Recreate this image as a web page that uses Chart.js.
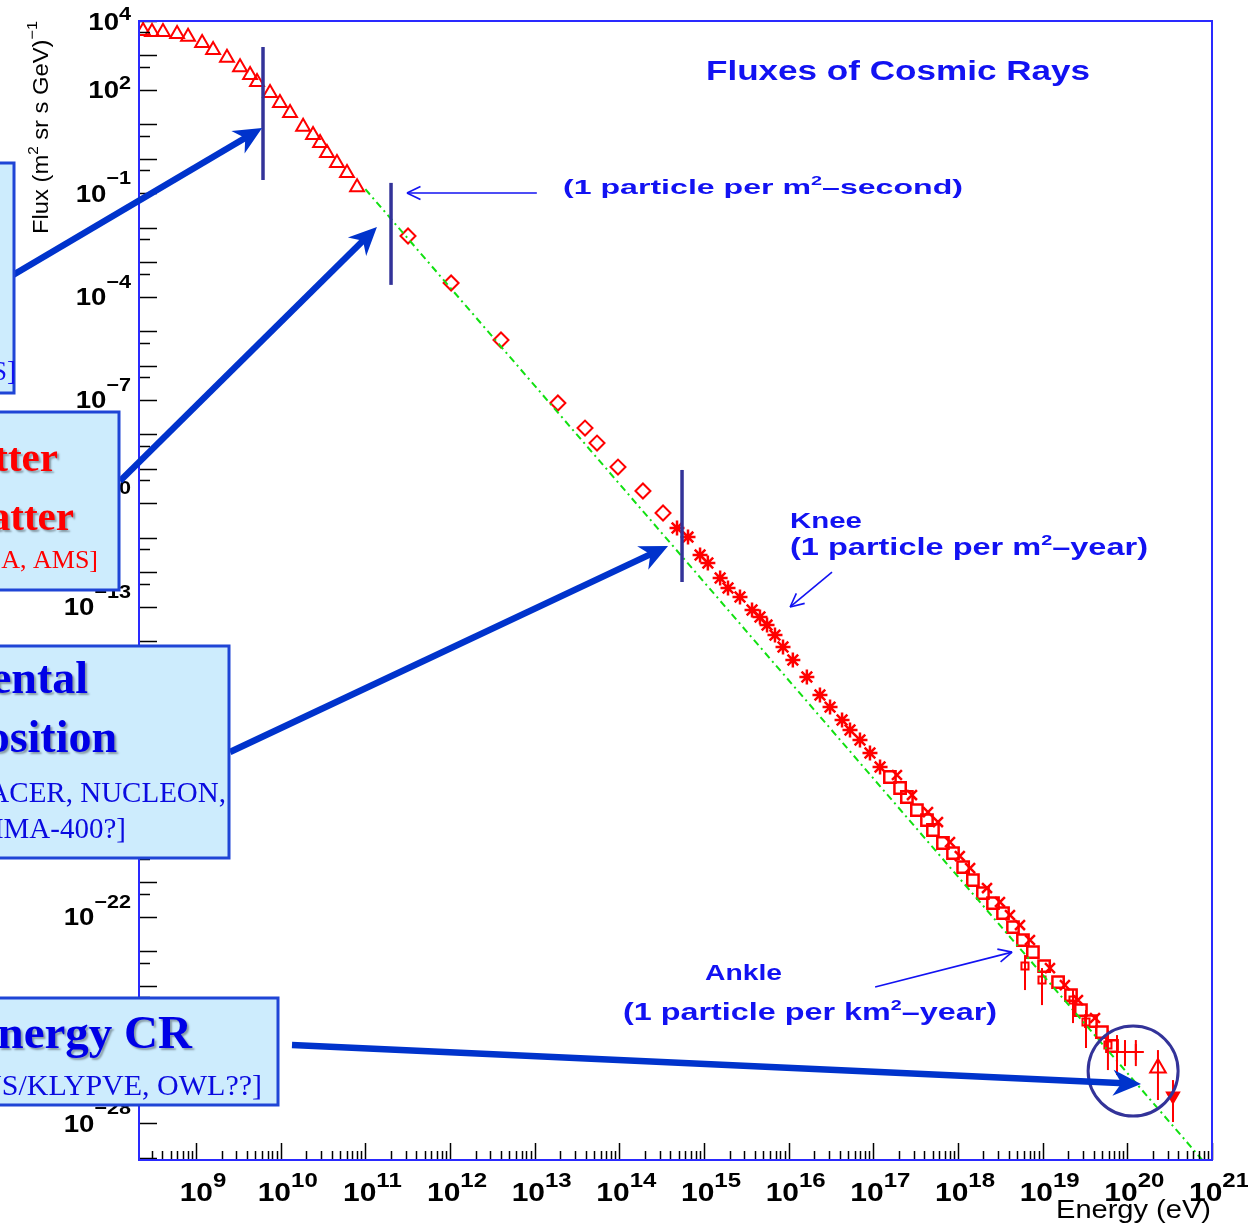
<!DOCTYPE html>
<html>
<head>
<meta charset="utf-8">
<script src="https://cdn.jsdelivr.net/npm/chart.js@4.4.1/dist/chart.umd.min.js"></script>
<style>
html, body { margin: 0; padding: 0; background: #fff; }
canvas { display: block; }
</style>
</head>
<body>
<canvas id="chart" width="1248" height="1232"></canvas>
<script>
var energyRange = [2.12e8, 1e21]
var fluxRange = [8.7e-30, 1e4]
var xLabelExps = [9, 10, 11, 12, 13, 14, 15, 16, 17, 18, 19, 20, 21]
var yLabelExps = [4, 2, -1, -4, -7, -10, -13, -16, -19, -22, -25, -28]

// low energy (triangles)
var lowE = [2.37e8, 3.02e8, 4.07e8, 5.97e8, 8.05e8, 1.18e9, 1.59e9, 2.32e9, 3.31e9, 4.35e9, 5.25e9,
    7.48e9, 9.8e9, 1.29e10, 1.84e10, 2.41e10, 2.92e10, 3.52e10, 4.62e10, 6.07e10, 7.98e10]
var lowF = [5130, 4790, 4790, 4170, 3470, 2290, 1450, 851, 457, 269, 170,
    81, 41.7, 21.4, 8.5, 4.9, 2.9, 1.48, 0.76, 0.39, 0.15]

// direct measurements (diamonds)
var midE = [3.19e11, 1.03e12, 4.0e12, 1.88e13, 3.93e13, 5.45e13, 9.64e13, 1.90e14, 3.28e14]
var midF = [5.74e-3, 2.48e-4, 5.50e-6, 8.17e-8, 1.53e-8, 5.62e-9, 1.13e-9, 2.28e-10, 5.24e-11]

// air showers around the knee (stars)
var kneeE = [4.80e14, 6.47e14, 8.98e14, 1.11e15, 1.55e15, 1.92e15, 2.66e15, 3.69e15, 4.58e15, 5.55e15, 6.89e15,
    8.57e15, 1.12e16, 1.64e16, 2.34e16, 3.08e16, 4.27e16, 5.30e16, 6.95e16, 9.12e16, 1.20e17]
var kneeF = [1.92e-11, 1.05e-11, 3.16e-12, 1.85e-12, 6.79e-13, 3.48e-13, 1.91e-13, 8.0e-14, 5.01e-14, 2.93e-14, 1.50e-14,
    6.75e-15, 2.83e-15, 9.08e-16, 2.73e-16, 1.22e-16, 5.13e-17, 2.63e-17, 1.35e-17, 5.65e-18, 2.22e-18]

// up to the ankle (open squares and crosses)
var ankleE = [1.57e17, 2.07e17, 2.49e17, 3.27e17, 4.30e17, 5.06e17, 6.64e17, 8.73e17, 1.15e18, 1.50e18, 1.97e18, 2.59e18,
    3.40e18, 4.46e18, 5.85e18, 7.67e18, 1.04e19, 1.52e19, 2.16e19, 2.83e19, 3.72e19, 5.01e19, 6.59e19]
var ankleF = [1.14e-18, 5.45e-19, 2.99e-19, 1.25e-19, 6.41e-20, 3.29e-20, 1.38e-20, 7.06e-21, 2.77e-21, 1.16e-21, 4.88e-22, 2.50e-22,
    1.28e-22, 5.02e-23, 2.11e-23, 9.44e-24, 3.71e-24, 1.27e-24, 5.33e-25, 1.96e-25, 9.4e-26, 4.50e-26, 1.77e-26]
var ankle2E = [1.90e17, 2.86e17, 4.42e17, 5.80e17, 8.04e17, 1.05e18, 1.39e18, 2.20e18, 3.13e18, 4.11e18, 5.40e18,
    7.08e18, 1.22e19, 1.83e19, 2.61e19, 4.15e19]
var ankle2F = [1.30e-18, 3.41e-19, 1.09e-19, 5.61e-20, 1.47e-20, 5.78e-21, 2.59e-21, 6.81e-22, 2.67e-22, 1.12e-22, 5.74e-23,
    2.11e-23, 3.24e-24, 1.04e-24, 3.82e-25, 1.15e-25]

// highest energies with error bars
var uheE = [6.18e18, 9.82e18, 2.28e19, 3.25e19, 5.90e19, 7.55e19, 9.38e19, 1.26e20, 2.30e20, 3.46e20]
var uheF = [3.71e-24, 1.46e-24, 3.82e-25, 8.79e-26, 1.89e-26, 1.18e-26, 1.18e-26, 1.18e-26, 4.06e-27, 6.25e-28]
var uheHi = [7.73e-24, 3.24e-24, 7.45e-25, 1.96e-25, 5.14e-26, 3.68e-26, 2.64e-26, 2.64e-26, 1.35e-26, 1.82e-27]
var uheLo = [7.45e-25, 2.73e-25, 8.2e-26, 1.55e-26, 3.55e-27, 2.54e-27, 4.63e-27, 4.63e-27, 4.79e-28, 1.1e-28]

// power law guide (dash-dot)
var fitE = [1e11, 1e21]
var fitF = [0.131, 4.1e-30]

var red = '#ff0000'
var textBlue = '#1212f2'
var slideBlue = '#0033cc'
var navy = '#333399'

function pts(xs, ys) {
    return xs.map(function (x, i) { return { x: x, y: ys[i] } })
}

function drawRich(ctx, parts, x, y, opts) {
    ctx.save()
    ctx.textAlign = 'left'
    ctx.textBaseline = 'alphabetic'
    var w = 0
    parts.forEach(function (p) { ctx.font = p[1]; w += ctx.measureText(p[0]).width })
    var sx = opts.width ? opts.width / w : (opts.sx || 1)
    var start = 0
    if (opts.align == 'right') start = -w * sx
    if (opts.align == 'center') start = -w * sx / 2
    ctx.translate(x + start, y)
    ctx.scale(sx, 1)
    var cx = 0
    parts.forEach(function (p) {
        ctx.font = p[1]
        ctx.fillText(p[0], cx, p[2] || 0)
        cx += ctx.measureText(p[0]).width
    })
    ctx.restore()
}

function powerParts(exp, size, supSize, rise) {
    var e = exp < 0 ? '\u2212' + (-exp) : String(exp)
    return [['10', 'bold ' + size + 'px "Liberation Sans"', 0], [e, 'bold ' + supSize + 'px "Liberation Sans"', -rise]]
}

function line(ctx, x1, y1, x2, y2) {
    ctx.beginPath()
    ctx.moveTo(x1, y1)
    ctx.lineTo(x2, y2)
    ctx.stroke()
}

function thinArrow(ctx, x1, y1, x2, y2) {
    var ang = Math.atan2(y2 - y1, x2 - x1)
    ctx.save()
    ctx.strokeStyle = textBlue
    ctx.lineWidth = 1.6
    line(ctx, x1, y1, x2, y2)
    for (var s = -1; s <= 1; s += 2) {
        var a = ang + Math.PI - s * 0.45
        line(ctx, x2, y2, x2 + 15 * Math.cos(a), y2 + 15 * Math.sin(a))
    }
    ctx.restore()
}

function bigArrow(ctx, x1, y1, x2, y2) {
    var ang = Math.atan2(y2 - y1, x2 - x1)
    var dx = Math.cos(ang), dy = Math.sin(ang)
    var L = 28, W = 13
    ctx.save()
    ctx.strokeStyle = slideBlue
    ctx.fillStyle = slideBlue
    ctx.lineWidth = 6.5
    line(ctx, x1, y1, x2 - dx * L * 0.6, y2 - dy * L * 0.6)
    ctx.beginPath()
    ctx.moveTo(x2, y2)
    ctx.lineTo(x2 - dx * L - dy * W, y2 - dy * L + dx * W)
    ctx.lineTo(x2 - dx * L * 0.7, y2 - dy * L * 0.7)
    ctx.lineTo(x2 - dx * L + dy * W, y2 - dy * L - dx * W)
    ctx.closePath()
    ctx.fill()
    ctx.restore()
}

// slide overlay, pixel boxes with their text lines (text, font, colour, right edge, baseline, shadow)
var boxes = [
    { x1: -10, x2: 14, y1: 163, y2: 393, lines: [['[AMS]', '27px "Liberation Serif"', textBlue, 16, 380, false]] },
    { x1: -10, x2: 119, y1: 412, y2: 590, lines: [
        ['Antimatter', 'bold 41px "Liberation Serif"', red, 58, 471, true],
        ['Dark Matter', 'bold 41px "Liberation Serif"', red, 74, 530, true],
        ['[PAMELA, AMS]', '26px "Liberation Serif"', red, 98, 568, false]] },
    { x1: -10, x2: 229, y1: 646, y2: 858, lines: [
        ['Elemental', 'bold 46px "Liberation Serif"', '#0000e6', 88, 693, true],
        ['Composition', 'bold 46px "Liberation Serif"', '#0000e6', 117, 752, true],
        ['[ATIC, TRACER, NUCLEON,', '29px "Liberation Serif"', '#0a0ae0', 226, 802, false],
        ['GAMMA-400?]', '29px "Liberation Serif"', '#0a0ae0', 126, 838, false]] },
    { x1: -10, x2: 278, y1: 998, y2: 1105, lines: [
        ['Ultra High Energy CR', 'bold 47px "Liberation Serif"', '#0000e6', 192, 1048, true],
        ['[TUS/KLYPVE, OWL??]', '30px "Liberation Serif"', '#0a0ae0', 262, 1095, false]] }
]

// pointers into the plot, in data units
var markers = [[6.18e9, 1758, 0.243], [2.01e11, 0.2, 2.19e-4], [5.5e14, 9.3e-10, 5.2e-13]]
var pointers = [
    { from: [13, 275], to: [6.03e9, 7.83] },
    { from: [120, 481], to: [1.37e11, 1.05e-2] },
    { from: [230, 752], to: [3.76e14, 5.77e-12] },
    { from: [292, 1045], to: [1.45e20, 1.39e-27] }
]
var ring = [1.17e20, 3.31e-27]
var notes = [
    [[1.06e13, 0.1016], [3.10e11, 0.1016]],
    [[3.25e16, 1.01e-12], [1.04e16, 9.8e-14]],
    [[1.05e17, 9.1e-25], [4.35e18, 9.4e-24]]
]

var pawPlugin = {
    id: 'paw',
    afterDatasetsDraw: function (chart) {
        var ctx = chart.ctx, xs = chart.scales.x, ys = chart.scales.y, a = chart.chartArea
        ctx.save()

        ctx.strokeStyle = red
        ctx.lineWidth = 2
        uheE.forEach(function (e, i) {
            var px = xs.getPixelForValue(e)
            line(ctx, px, ys.getPixelForValue(uheHi[i]), px, ys.getPixelForValue(uheLo[i]))
        })

        ctx.strokeStyle = '#000'
        ctx.lineWidth = 1.5
        for (var n = 8; n <= 21; n++) {
            for (var k = 1; k <= 9; k++) {
                var v = k * Math.pow(10, n)
                if (v < energyRange[0] || v > energyRange[1] * 1.001) continue
                var px = Math.round(xs.getPixelForValue(v)) + 0.5
                line(ctx, px, a.bottom, px, a.bottom - (k == 1 ? 17 : 9))
            }
        }
        for (var m = -29; m <= 4; m++) {
            var vals = [[Math.pow(10, m), 18]]
            if (((m % 3) + 3) % 3 != 1) vals.push([Math.pow(10, m + 2 / 3), 11])
            vals.forEach(function (t) {
                if (t[0] < fluxRange[0] || t[0] > fluxRange[1] * 1.001) return
                var py = Math.round(ys.getPixelForValue(t[0])) + 0.5
                line(ctx, a.left, py, a.left + t[1], py)
            })
        }

        ctx.strokeStyle = '#2a2aff'
        ctx.lineWidth = 2
        ctx.strokeRect(a.left, a.top, a.right - a.left, a.bottom - a.top)

        ctx.fillStyle = '#000'
        xLabelExps.forEach(function (p) {
            var px = xs.getPixelForValue(Math.pow(10, p))
            drawRich(ctx, powerParts(p, 25, 20, 14), px + 7, a.bottom + 41, { sx: 1.2, align: 'center' })
        })
        yLabelExps.forEach(function (p) {
            var py = ys.getPixelForValue(Math.pow(10, p))
            drawRich(ctx, powerParts(p, 23, 18, p < 0 ? 17.5 : 9.5), 131, py + 8.5, { sx: 1.2, align: 'right' })
        })

        drawRich(ctx, [['Energy (eV)', '25px "Liberation Sans"', 0]], 1056, 1218, { width: 155 })
        ctx.save()
        ctx.translate(48, 234)
        ctx.rotate(-Math.PI / 2)
        drawRich(ctx, [['Flux (m', '22px "Liberation Sans"', 0], ['2', '14px "Liberation Sans"', -10],
            [' sr s GeV)', '22px "Liberation Sans"', 0], ['\u22121', '15px "Liberation Sans"', -11]], 0, 0, { width: 213 })
        ctx.restore()

        ctx.fillStyle = textBlue
        var f = function (s) { return 'bold ' + s + 'px "Liberation Sans"' }
        drawRich(ctx, [['Fluxes of Cosmic Rays', f(28), 0]], 706, 80, { width: 384 })
        drawRich(ctx, [['(1 particle per m', f(21), 0], ['2', f(13), -9], ['\u2013second)', f(21), 0]], 563, 194, { width: 400 })
        drawRich(ctx, [['Knee', f(22), 0]], 790, 528, { width: 72 })
        drawRich(ctx, [['(1 particle per m', f(23), 0], ['2', f(14), -10], ['\u2013year)', f(23), 0]], 790, 555, { width: 358 })
        drawRich(ctx, [['Ankle', f(22), 0]], 705, 980, { width: 77 })
        drawRich(ctx, [['(1 particle per km', f(23), 0], ['2', f(14), -10], ['\u2013year)', f(23), 0]], 623, 1020, { width: 374 })

        notes.forEach(function (nt) {
            thinArrow(ctx, xs.getPixelForValue(nt[0][0]), ys.getPixelForValue(nt[0][1]),
                xs.getPixelForValue(nt[1][0]), ys.getPixelForValue(nt[1][1]))
        })
        ctx.restore()
    },
    afterDraw: function (chart) {
        var ctx = chart.ctx, xs = chart.scales.x, ys = chart.scales.y
        ctx.save()
        ctx.strokeStyle = navy
        ctx.lineWidth = 3.5
        markers.forEach(function (mk) {
            var px = xs.getPixelForValue(mk[0])
            line(ctx, px, ys.getPixelForValue(mk[1]), px, ys.getPixelForValue(mk[2]))
        })
        ctx.lineWidth = 3
        ctx.beginPath()
        ctx.arc(xs.getPixelForValue(ring[0]), ys.getPixelForValue(ring[1]), 45, 0, Math.PI * 2)
        ctx.stroke()

        pointers.forEach(function (p) {
            bigArrow(ctx, p.from[0], p.from[1], xs.getPixelForValue(p.to[0]), ys.getPixelForValue(p.to[1]))
        })

        boxes.forEach(function (b) {
            ctx.fillStyle = '#cdecfd'
            ctx.fillRect(b.x1, b.y1, b.x2 - b.x1, b.y2 - b.y1)
            ctx.strokeStyle = '#1f45d6'
            ctx.lineWidth = 3
            ctx.strokeRect(b.x1, b.y1, b.x2 - b.x1, b.y2 - b.y1)
            b.lines.forEach(function (t) {
                ctx.save()
                if (t[5]) {
                    ctx.shadowColor = 'rgba(0,0,0,0.35)'
                    ctx.shadowOffsetX = 2
                    ctx.shadowOffsetY = 2
                    ctx.shadowBlur = 2
                }
                ctx.fillStyle = t[2]
                drawRich(ctx, [[t[0], t[1], 0]], t[3], t[4], { align: 'right' })
                ctx.restore()
            })
        })
        ctx.restore()
    }
}

var open = 'rgba(0,0,0,0)'
var ctx = document.getElementById('chart').getContext('2d')
var chart = new Chart(ctx, {
    type: 'scatter',
    data: {
        datasets: [
            { data: pts(fitE, fitF), showLine: true, borderColor: '#11e011', borderWidth: 2, borderDash: [7, 4, 2, 4], pointRadius: 0 },
            { data: pts(lowE, lowF), pointStyle: 'triangle', pointRadius: 8, borderColor: red, backgroundColor: open, borderWidth: 2 },
            { data: pts(midE, midF), pointStyle: 'rectRot', pointRadius: 7.5, borderColor: red, backgroundColor: open, borderWidth: 2 },
            { data: pts(kneeE, kneeF), pointStyle: 'star', pointRadius: 7.5, borderColor: red, backgroundColor: open, borderWidth: 2.5 },
            { data: pts(ankleE, ankleF), pointStyle: 'rect', pointRadius: 8, borderColor: red, backgroundColor: open, borderWidth: 2.5 },
            { data: pts(ankle2E, ankle2F), pointStyle: 'crossRot', pointRadius: 7, borderColor: red, backgroundColor: open, borderWidth: 2.5 },
            {
                data: pts(uheE, uheF),
                pointStyle: ['rect', 'rect', 'rect', 'rect', 'rect', 'cross', 'cross', 'cross', 'triangle', 'triangle'],
                rotation: [0, 0, 0, 0, 0, 0, 0, 0, 0, 180],
                pointRadius: [5, 5, 5, 5, 5, 8, 8, 8, 9, 7],
                borderColor: red, backgroundColor: [open, open, open, open, open, open, open, open, open, red], borderWidth: 2
            }
        ]
    },
    options: {
        responsive: false,
        animation: false,
        devicePixelRatio: 1,
        layout: { padding: { left: 139, top: 21, right: 36, bottom: 72 } },
        plugins: { legend: { display: false }, tooltip: { enabled: false } },
        scales: {
            x: { type: 'logarithmic', min: energyRange[0], max: energyRange[1], display: false },
            y: { type: 'logarithmic', min: fluxRange[0], max: fluxRange[1], display: false }
        }
    },
    plugins: [pawPlugin]
})
</script>
</body>
</html>
